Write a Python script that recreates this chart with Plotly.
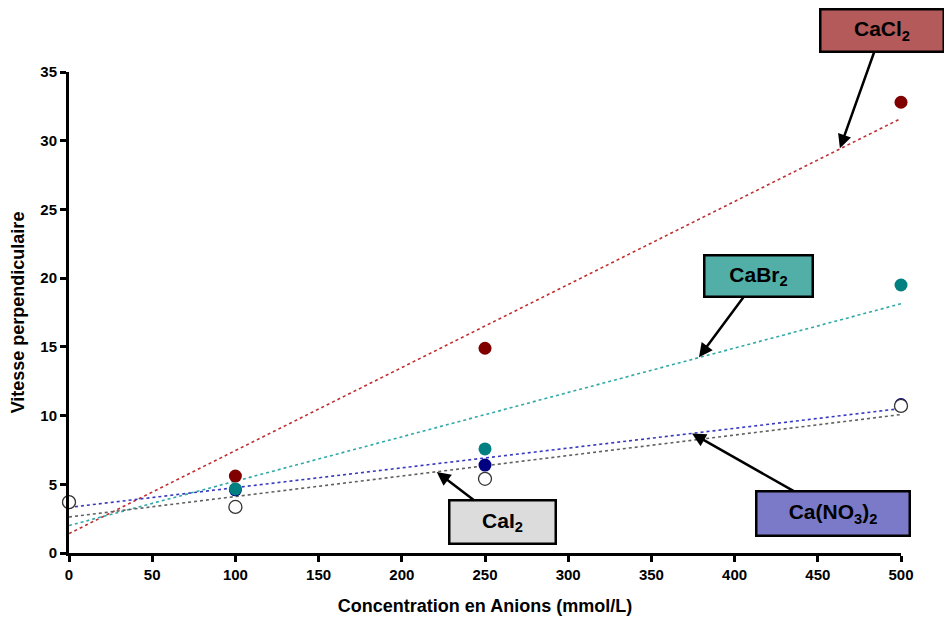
import numpy as np
import plotly.graph_objects as go

concentration = [0, 100, 250, 500]
cacl2 = [3.7, 5.6, 14.9, 32.8]
cabr2 = [3.7, 4.66, 7.57, 19.5]
cano3 = [3.7, 4.6, 6.4, 10.8]
cai2 = [3.7, 3.35, 5.4, 10.7]
x_ticks = list(range(0, 501, 50))
y_ticks = list(range(0, 36, 5))

series = [
    ("CaCl<sub>2</sub>", cacl2, "#800000", "#800000", "#C03030"),
    ("Ca(NO<sub>3</sub>)<sub>2</sub>", cano3, "#000080", "#000080", "#3838C0"),
    ("CaBr<sub>2</sub>", cabr2, "#008080", "#008080", "#30A8A8"),
    ("CaI<sub>2</sub>", cai2, "white", "#333333", "#606060"),
]

font_family = "Liberation Sans, Arial, sans-serif"
fig = go.Figure()
x = np.array(concentration, dtype=float)
for name, ys, fill, edge, lc in series:
    slope, intercept = np.polyfit(x, np.array(ys, dtype=float), 1)
    xs = [0, 500]
    fig.add_trace(go.Scatter(x=xs, y=[intercept + slope * v for v in xs], mode="lines",
                             line=dict(color=lc, width=1.6, dash="dot"),
                             showlegend=False, hoverinfo="skip", cliponaxis=False))
for name, ys, fill, edge, lc in series:
    fig.add_trace(go.Scatter(x=concentration, y=ys, mode="markers", name=name,
                             marker=dict(size=13, color=fill,
                                         line=dict(color=edge, width=1.3 if fill == "white" else 0)),
                             showlegend=False, cliponaxis=False))

labels = [
    ("<b>CaCl<sub>2</sub></b>", 463.3, 29.45, 42, -118, "#B45A5A", 119, 38),
    ("<b>CaBr<sub>2</sub></b>", 378.6, 14.25, 60, -81, "#52AFA8", 104, 37),
    ("<b>Ca(NO<sub>3</sub>)<sub>2</sub></b>", 374.4, 8.7, 141, 80, "#7A7AC8", 149, 40),
    ("<b>CaI<sub>2</sub></b>", 221.0, 5.9, 66, 50, "#DCDCDC", 102, 39),
]
for text, tx, ty, ax, ay, bg, w, h in labels:
    fig.add_annotation(x=tx, y=ty, xref="x", yref="y", ax=ax, ay=ay, text=text,
                       showarrow=True, arrowhead=2, arrowsize=1.1, arrowwidth=2.5,
                       arrowcolor="black", bgcolor=bg, bordercolor="black", borderwidth=2.5,
                       width=w, height=h, align="center", valign="middle",
                       font=dict(family=font_family, size=21, color="black"))

axis_common = dict(showline=True, linecolor="black", linewidth=3, ticks="outside",
                   ticklen=6, tickwidth=2.5, tickcolor="black", showgrid=False,
                   zeroline=False,
                   tickfont=dict(family=font_family, size=15, color="black"))
fig.update_xaxes(range=[0, 500], tickmode="array", tickvals=x_ticks,
                 ticktext=[f"<b>{v}</b>" for v in x_ticks],
                 title=dict(text="<b>Concentration en Anions (mmol/L)</b>",
                            font=dict(family=font_family, size=18, color="black"), standoff=18),
                 **axis_common)
fig.update_yaxes(range=[0, 35], tickmode="array", tickvals=y_ticks,
                 ticktext=[f"<b>{v}</b>" for v in y_ticks],
                 title=dict(text="<b>Vitesse perpendiculaire</b>",
                            font=dict(family=font_family, size=18, color="black"), standoff=12),
                 **axis_common)
fig.update_layout(width=944, height=626, margin=dict(l=69, r=43, t=72, b=73),
                  plot_bgcolor="white", paper_bgcolor="white",
                  font=dict(family=font_family, color="black"))
fig.write_html("out.html", config={"displayModeBar": False},
               post_script="document.body.style.margin='0px';")
